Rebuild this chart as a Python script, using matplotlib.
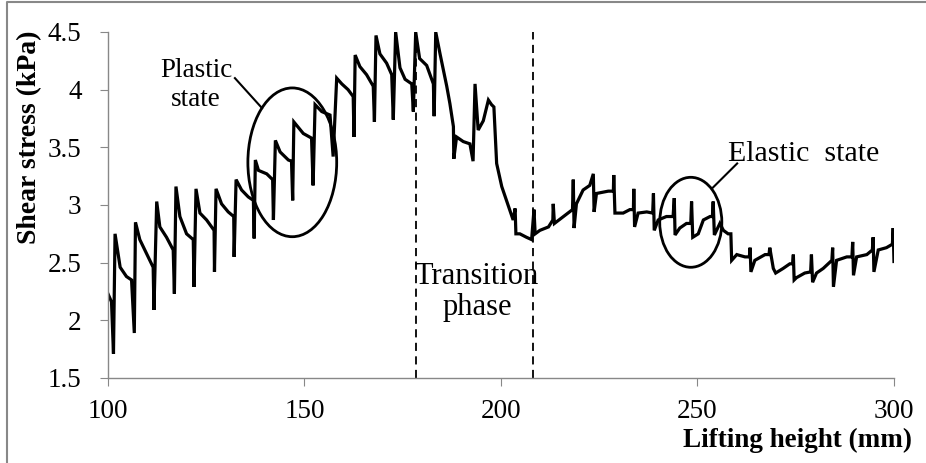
import matplotlib
matplotlib.use("Agg")
import matplotlib.pyplot as plt
from matplotlib.patches import Ellipse
from matplotlib.lines import Line2D

# lifting height (mm) / shear stress (kPa)
# plastic part: sawtooth cycles (decay, sudden drop, jump up)
x_plastic = [100.0, 100.9, 101.4, 101.8,
             103.1, 104.7, 106.0, 106.7, 107.0,
             108.1, 109.8, 111.5, 111.7, 112.4,
             113.2, 114.9, 116.6, 116.9, 117.3,
             118.3, 120.0, 121.7, 121.9, 122.4,
             123.4, 125.1, 127.0, 127.1, 127.5,
             128.9, 130.6, 132.0, 132.1, 132.6,
             134.0, 135.7, 137.0, 137.2, 137.5,
             138.3, 140.4, 141.9, 142.1, 142.6,
             143.8, 145.9, 146.7, 147.0, 147.3]
y_plastic = [2.23, 2.16, 1.71, 2.75,
             2.46, 2.38, 2.35, 1.89, 2.85,
             2.70, 2.58, 2.46, 2.09, 3.03,
             2.81, 2.72, 2.61, 2.23, 3.16,
             2.90, 2.75, 2.70, 2.29, 3.14,
             2.93, 2.87, 2.78, 2.42, 3.14,
             3.01, 2.94, 2.90, 2.55, 3.22,
             3.13, 3.07, 3.04, 2.71, 3.39,
             3.30, 3.27, 3.22, 2.87, 3.56,
             3.46, 3.39, 3.38, 3.04, 3.72]

x_peak = [149.7, 151.8, 152.2, 152.7,
          154.4, 156.5, 157.3, 158.2,
          159.5, 161.1, 162.4, 162.6, 162.9,
          164.1, 165.8, 167.5, 167.8, 168.2,
          169.2, 170.9, 172.2, 172.6, 173.2,
          174.3, 175.6, 177.3, 177.7, 178.3,
          179.3, 181.1, 182.8, 183.0, 183.4]
y_peak = [3.62, 3.58, 3.17, 3.87,
          3.81, 3.78, 3.42, 4.10,
          4.05, 4.00, 3.94, 3.59, 4.30,
          4.20, 4.13, 4.03, 3.72, 4.47,
          4.31, 4.23, 4.13, 3.74, 4.50,
          4.19, 4.09, 4.05, 3.81, 4.50,
          4.27, 4.21, 4.05, 3.77, 4.50]

x_transition = [184.5, 186.2, 187.0, 187.9, 188.0, 188.7, 190.4, 192.1,
                192.9, 193.4, 194.2, 195.5, 196.8, 197.6, 198.2, 198.9,
                200.2, 201.9, 203.1, 203.6, 203.8, 204.8, 206.5, 207.8]
y_transition = [4.31, 4.03, 3.88, 3.68, 3.40, 3.59, 3.55, 3.53,
                3.38, 4.05, 3.65, 3.73, 3.91, 3.87, 3.85, 3.36,
                3.16, 2.99, 2.87, 2.97, 2.75, 2.75, 2.72, 2.70]

x_elastic = [208.4, 208.7, 209.9, 212.1, 213.2, 213.3, 213.6, 215.9,
             218.2, 218.4, 218.6, 219.2, 220.9, 222.6, 223.5, 223.7,
             224.3, 227.3, 228.6, 228.7, 229.0, 231.1, 232.8, 233.7,
             233.8, 234.0, 234.9, 237.1, 238.6, 238.8, 239.0, 240.0,
             242.1, 243.8, 244.1, 244.3, 245.5, 247.2, 248.3, 248.5,
             248.8, 250.2, 251.5, 253.2, 253.8, 254.0, 254.3, 255.7,
             256.6, 257.8, 258.5, 258.7, 260.0, 262.1, 263.2, 263.4,
             263.6, 264.6, 267.2, 268.2, 268.4, 269.3, 269.9, 271.8,
             273.5, 274.2, 274.4, 274.6, 275.2, 277.3, 278.8, 279.0,
             279.3, 280.3, 282.0, 284.2, 284.4, 284.6, 285.4, 288.0,
             289.3, 289.5, 289.7, 290.5, 293.1, 294.5, 294.7, 294.9,
             296.0, 298.1, 299.6, 299.8, 300.0]
y_elastic = [2.96, 2.75, 2.78, 2.81, 2.87, 3.01, 2.84, 2.90,
             2.96, 3.22, 2.80, 3.01, 3.13, 3.17, 3.27, 2.94,
             3.10, 3.12, 3.12, 3.26, 2.93, 2.93, 2.96, 2.96,
             3.14, 2.81, 2.93, 2.94, 2.93, 3.10, 2.78, 2.87,
             2.90, 2.90, 3.06, 2.74, 2.80, 2.84, 2.84, 3.03,
             2.72, 2.75, 2.87, 2.90, 2.90, 3.03, 2.74, 2.84,
             2.78, 2.75, 2.75, 2.52, 2.57, 2.55, 2.55, 2.63,
             2.42, 2.52, 2.57, 2.57, 2.63, 2.45, 2.41, 2.45,
             2.49, 2.49, 2.57, 2.35, 2.37, 2.41, 2.42, 2.57,
             2.33, 2.41, 2.45, 2.52, 2.63, 2.29, 2.52, 2.55,
             2.55, 2.68, 2.39, 2.55, 2.57, 2.61, 2.72, 2.42,
             2.61, 2.63, 2.66, 2.80, 2.51]

x_all = x_plastic + x_peak + x_transition + x_elastic
y_all = y_plastic + y_peak + y_transition + y_elastic

phase_bounds = [178.5, 208.2]

x_ticks = [100, 150, 200, 250, 300]
y_ticks = [1.5, 2, 2.5, 3, 3.5, 4, 4.5]
y_tick_labels = ['1.5', '2', '2.5', '3', '3.5', '4', '4.5']

plt.rcParams['font.family'] = ['Liberation Serif', 'DejaVu Serif']
plt.rcParams['xtick.major.size'] = 6
plt.rcParams['ytick.major.size'] = 6
plt.rcParams['xtick.major.pad'] = 9
plt.rcParams['ytick.major.pad'] = 13
plt.rcParams['xtick.direction'] = 'out'
plt.rcParams['ytick.direction'] = 'out'
plt.rcParams['xtick.color'] = '#888888'
plt.rcParams['ytick.color'] = '#888888'
plt.rcParams['xtick.labelcolor'] = 'black'
plt.rcParams['ytick.labelcolor'] = 'black'
plt.rcParams['xtick.labelsize'] = 19.5
plt.rcParams['ytick.labelsize'] = 19.5

fig = plt.figure(figsize=(9.26, 4.63), dpi=100)
ax = fig.add_axes([0.1166, 0.1836, 0.8488, 0.7473])

ax.plot(x_all, y_all, color='black', lw=2.3, solid_joinstyle='miter')
for xb in phase_bounds:
    ax.axvline(xb, color='black', lw=1.3, ls=(0, (4.5, 3)))

ax.set_xlim(100, 300)
ax.set_ylim(1.5, 4.5)
ax.set_xticks(x_ticks)
ax.set_yticks(y_ticks, y_tick_labels)

for s in ['top', 'right']:
    ax.spines[s].set_visible(False)
for s in ['left', 'bottom']:
    ax.spines[s].set_color('#888888')
    ax.spines[s].set_linewidth(1.0)

# annotations
ax.add_patch(Ellipse((146.9, 3.37), 22.6, 1.29, fill=False, lw=2.0, color='black'))
ax.add_patch(Ellipse((248.3, 2.85), 15.8, 0.78, fill=False, lw=2.0, color='black'))
ax.plot([132.3, 139.2], [4.10, 3.84], color='black', lw=1.5)
ax.plot([260.1, 253.9], [3.36, 3.15], color='black', lw=1.5)
ax.text(122.4, 4.04, 'Plastic\nstate', ha='center', va='center', fontsize=19.5,
        linespacing=1.25)
ax.text(193.9, 2.245, 'Transition\nphase', ha='center', va='center', fontsize=22,
        linespacing=1.1)
ax.text(257.8, 3.44, 'Elastic  state', ha='left', va='center', fontsize=21.5)

fig.text(30 / 926, 1 - 137 / 463, 'Shear stress (kPa)', rotation=90,
         ha='center', va='center', fontsize=20, fontweight='bold')
fig.text(912 / 926, 1 - 440 / 463, 'Lifting height (mm)', ha='right',
         va='center', fontsize=19.5, fontweight='bold')

# outer frame
fig.add_artist(Line2D([0.008, 0.008, 1.0], [0.0, 0.995, 0.995],
                      transform=fig.transFigure, color='#888888', lw=1.5))

fig.savefig('out.png', dpi=100)
